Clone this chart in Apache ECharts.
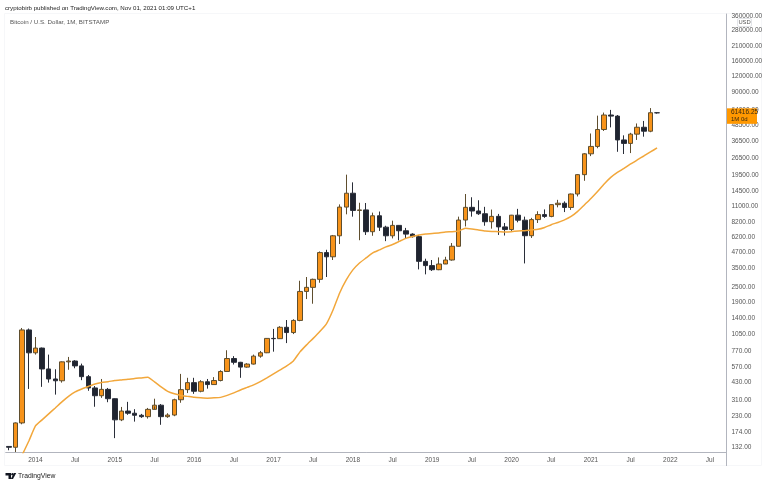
<!DOCTYPE html>
<html><head><meta charset="utf-8">
<style>html,body{margin:0;padding:0;background:#fff}#c{width:768px;height:485px}</style>
<script src="https://cdn.jsdelivr.net/npm/echarts@6/dist/echarts.min.js"></script>
</head><body><div id="c"></div>
<script>
const months = [];
for (let y = 2013, m = 9; y < 2022 || (y === 2022 && m <= 9); m === 12 ? (y++, m = 1) : m++) {
  months.push(y + '-' + String(m).padStart(2, '0'));
}
const opens = [133,131,205,1133,
744,812,553,460,445,630,640,585,480,390,338,380,
320,217,255,245,236,230,263,284,230,237,314,378,
430,367,437,415,447,528,670,625,572,605,700,745,
970,965,1190,1080,1350,2300,2480,2875,4700,4350,6400,10850,
14000,10200,10300,6900,9250,7500,6400,7750,7020,6600,6300,4000,
3700,3430,3810,4100,5280,8550,10800,10100,9600,8290,9150,7540,
7180,9350,8530,6410,8620,9450,9140,11350,11650,10780,13800,19700,
28900,33100,45200,59000,57800,37300,35000,41500,47100,43800,61500];
const closes = [131,205,1133,744,
812,553,460,445,630,640,585,480,390,338,380,320,
217,255,245,236,230,263,284,230,237,314,378,430,
367,437,415,447,528,670,625,572,605,700,745,970,
965,1190,1080,1350,2300,2480,2875,4700,4350,6400,10850,14000,
10200,10300,6900,9250,7500,6400,7750,7020,6600,6300,4000,3700,
3430,3810,4100,5280,8550,10800,10100,9600,8290,9150,7540,7180,
9350,8530,6410,8620,9450,9140,11350,11650,10780,13800,19700,28900,
33100,45200,59000,57800,37300,35000,41500,47100,43800,61500,61416.25];
const highs = [134,207,1175,1163,
995,820,720,550,635,690,650,610,495,404,460,390,
322,275,302,264,242,270,320,290,245,320,505,470,
470,450,460,476,540,780,700,630,615,720,770,975,
1155,1215,1360,1380,2800,3000,2910,4800,4950,6500,11400,19700,
17100,11750,11700,9800,10000,7700,8450,7800,7400,6700,6500,4200,
4100,4300,4350,5600,9100,13800,13000,12300,10900,10370,9570,8100,
9400,10500,9100,8900,10050,10400,11400,12400,12050,13900,19900,29300,
42000,58300,61700,64800,59000,40600,42500,50500,52900,67000,61800];
const lows = [124,120,200,383,
720,398,430,345,430,545,560,450,370,276,325,300,
155,212,238,210,225,222,278,198,225,232,297,355,
350,360,385,415,440,528,600,470,565,600,680,740,
760,960,890,1050,1330,2000,1835,2700,3000,4100,5500,9500,
9100,5900,6500,6400,7000,5800,6100,5880,6100,6200,3450,3150,
3350,3400,3850,4050,5300,7600,9100,9400,7700,7300,6500,6430,
7000,8200,3850,6150,8100,8900,9000,10800,9900,10300,13200,17600,
27700,32000,44000,47000,30000,28800,29300,37300,39600,43000,60500];
const ma = [null,null,114,147,
194,217,242,270,302,334,363,383,401,420,432,438,
447,452,457,465,469,474,436,398,366,350,340,334,
328,325,323,325,328,340,356,376,394,413,438,469,
505,543,585,641,757,861,970,1100,1267,1634,2238,2843,
3420,3880,4260,4670,4935,5215,5460,5770,6100,6325,6500,6620,
6690,6750,6870,6910,7000,7350,7260,7130,7000,6930,6910,6870,
6910,7000,7030,7130,7210,7460,7850,8180,8570,9130,10020,11290,
12720,14470,16600,18720,20510,22070,23980,25820,27770,29910,32180];
const priceTicks = [132,174,230,310,430,570,770,1050,1400,1900,2500,3500,4700,6200,8200,11000,14500,19500,26500,36500,48500,64000,90000,120000,160000,210000,280000,360000];
const lastPrice = '61416.25';
const countdown = '1M 0d';

const ORANGE = '#F7931A', DARK = '#1F2430';
const chart = echarts.init(document.getElementById('c'), null, {renderer: 'canvas'});
const FONT = '"Liberation Sans", sans-serif';
chart.setOption({
  animation: false,
  backgroundColor: '#fff',
  grid: {left: 5.7, right: 41.5, top: 14, bottom: 32.5, show: false},
  xAxis: {
    type: 'category', data: months, boundaryGap: true,
    axisLine: {show: true, lineStyle: {color: '#B2B5BE', width: 1}},
    axisTick: {show: false}, splitLine: {show: false},
    axisLabel: {
      fontFamily: FONT, fontSize: 6.5, color: '#555', margin: 4, hideOverlap: false,
      interval: (i, v) => v.endsWith('-01') || v.endsWith('-07'),
      formatter: v => v.endsWith('-01') ? v.slice(0, 4) : 'Jul'
    }
  },
  yAxis: {
    type: 'log', logBase: 10, position: 'right', min: 119, max: 378000, scale: true,
    axisLine: {show: true, lineStyle: {color: '#B2B5BE', width: 1}},
    axisTick: {show: false}, splitLine: {show: false}, minorTick: {show: false},
    axisLabel: {
      customValues: priceTicks, fontFamily: FONT, fontSize: 6.5, color: '#555', margin: 5,
      formatter: v => Number(v).toFixed(2)
    }
  },
  series: [{
    type: 'candlestick', barWidth: 5,
    data: months.slice(0, closes.length).map((_, i) => [opens[i], closes[i], lows[i], highs[i]]),
    itemStyle: {color: ORANGE, color0: DARK, borderColor: '#5F4E2E', borderColor0: '#2A2E39', borderWidth: 1}
  }, {
    type: 'line', data: ma, symbol: 'none', smooth: 0.15, connectNulls: false,
    lineStyle: {color: '#F2A73B', width: 1.5}
  }]
});
const py = chart.convertToPixel({yAxisIndex: 0}, Number(lastPrice));
chart.setOption({graphic: [
  {type: 'rect', silent: true, z: 0, shape: {x: 4.5, y: 13.5, width: 757, height: 452}, style: {fill: 'none', stroke: '#F6F7F9', lineWidth: 1}},
  {type: 'line', z: 5, shape: {x1: 726.5, y1: 452, x2: 726.5, y2: 466}, style: {stroke: '#B2B5BE', lineWidth: 1}},
  {type: 'rect', z: 20, shape: {x: 737.5, y: 18.5, width: 14, height: 8, r: 1.5}, style: {fill: '#fff', stroke: '#D6D8DE', lineWidth: 0.7}},
  {type: 'text', z: 21, style: {x: 744.5, y: 22.7, text: 'USD', fontFamily: FONT, fontSize: 5.8, fill: '#555', align: 'center', verticalAlign: 'middle'}},
  {type: 'rect', z: 20, shape: {x: 727, y: py - 4.5, width: 30, height: 15.5}, style: {fill: '#FF9800'}},
  {type: 'text', z: 21, style: {x: 731, y: py - 0.3, text: lastPrice, fontFamily: FONT, fontSize: 6.5, fill: '#3a2a10', verticalAlign: 'middle'}},
  {type: 'text', z: 21, style: {x: 731, y: py + 6.7, text: countdown, fontFamily: FONT, fontSize: 6, fill: '#3a2a10', verticalAlign: 'middle'}},
  {type: 'text', style: {x: 5, y: 8, text: 'cryptobirb published on TradingView.com, Nov 01, 2021 01:09 UTC+1', fontFamily: FONT, fontSize: 6.15, fill: '#222', verticalAlign: 'middle'}},
  {type: 'text', style: {x: 10, y: 22, text: 'Bitcoin / U.S. Dollar, 1M, BITSTAMP', fontFamily: FONT, fontSize: 6.2, fill: '#555', verticalAlign: 'middle'}},
  {type: 'text', style: {x: 18, y: 476, text: 'TradingView', fontFamily: FONT, fontSize: 6.8, fill: '#222', verticalAlign: 'middle'}},
  {type: 'polygon', shape: {points: [[5.5,473],[11,473],[11,479],[8.5,479],[8.5,475.5],[5.5,475.5]]}, style: {fill: '#131722'}},
  {type: 'circle', shape: {cx: 12.5, cy: 474.3, r: 1.2}, style: {fill: '#131722'}},
  {type: 'polygon', shape: {points: [[14,473],[16.2,473],[13,479],[10.8,479]]}, style: {fill: '#131722'}}
]});
</script></body></html>
